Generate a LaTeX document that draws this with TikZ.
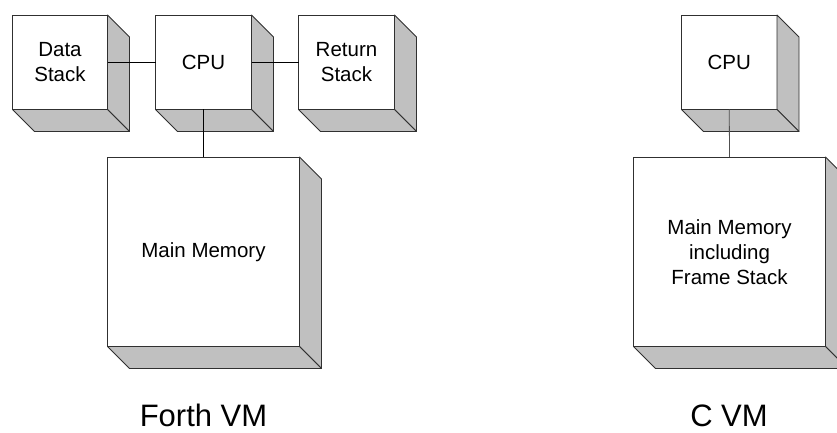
\documentclass[tikz,border=0pt]{standalone}
\usepackage{fontspec}
\setmainfont{Liberation Sans}
\usetikzlibrary{calc}
\definecolor{edgegray}{HTML}{303030}
\definecolor{sidegray}{HTML}{C0C0C0}
\definecolor{wiregray}{HTML}{505050}
\tikzset{
  front/.style={draw=edgegray, fill=white, line width=0.8pt, outer sep=0pt, inner sep=0pt,
    align=center, font=\fontsize{20.5}{25}\selectfont},
  face/.style={draw=edgegray, fill=sidegray, line width=0.8pt, line join=round},
  wire/.style={draw=black, line width=0.8pt},
  cwire/.style={draw=wiregray, line width=0.8pt},
  caption/.style={font=\fontsize{31}{36}\selectfont, anchor=base}
}
\begin{document}
\begin{tikzpicture}[x=1pt,y=-1pt]
\useasboundingbox (0,0) rectangle (837,433);
\clip (0,0) rectangle (837,433);
% nodes (front faces)
\node[front, minimum width=95pt, minimum height=94.5pt] (ds) at (60,62.25) {Data\\Stack};
\node[front, minimum width=96pt, minimum height=94.5pt] (cpu) at (203.5,62.25) {CPU};
\node[front, minimum width=96pt, minimum height=94.5pt] (rs) at (346.5,62.25) {Return\\Stack};
\node[front, minimum width=192pt, minimum height=189.5pt] (mem) at (203.5,251.75) {Main Memory};
\node[front, minimum width=95.5pt, minimum height=94.5pt] (ccpu) at (729.25,62.25) {CPU};
\node[front, minimum width=192pt, minimum height=189.5pt] (cmem) at (729.5,251.75) {Main Memory\\including\\Frame Stack};
% depth faces
\foreach \n in {ds,cpu,rs,mem,ccpu,cmem}{
  \path[face] (\n.north east) -- ($(\n.north east)+(22,22)$) -- ($(\n.south east)+(22,22)$) -- (\n.south east) -- cycle;
  \path[face] (\n.south west) -- (\n.south east) -- ($(\n.south east)+(22,22)$) -- ($(\n.south west)+(22,22)$) -- cycle;
}
% connectors
\draw[wire] (ds.east) -- (cpu.west);
\draw[wire] (cpu.east) -- (rs.west);
\draw[wire] (cpu.south) -- (mem.north);
\draw[cwire] (ccpu.south) -- (cmem.north);
% captions
\node[caption] (forth) at (203.5,426.5) {Forth VM};
\node[caption] (cvm) at (729,426.5) {C VM};
\end{tikzpicture}
\end{document}
